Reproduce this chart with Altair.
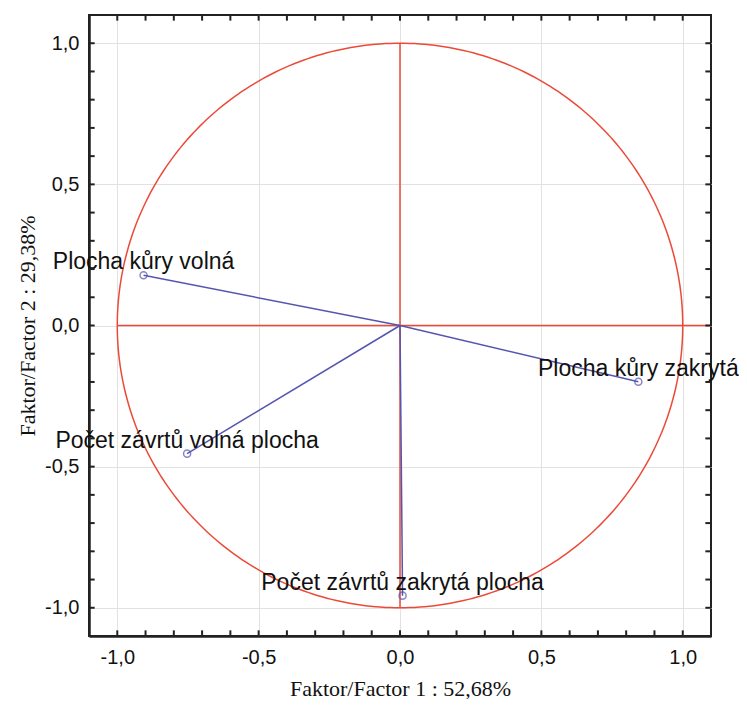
import altair as alt
import pandas as pd
import numpy as np

# Variable loadings (Factor 1, Factor 2)
names = ["Plocha kůry volná", "Plocha kůry zakrytá", "Počet závrtů volná plocha", "Počet závrtů zakrytá plocha"]
f1 = [-0.907, 0.843, -0.753, 0.009]
f2 = [0.178, -0.199, -0.454, -0.957]

axis_values = [-1.0, -0.5, 0.0, 0.5, 1.0]
minor_ticks = [round(-1.0 + 0.1 * i, 1) for i in range(21)]

LO, HI = -1.1, 1.1
TL = 0.02  # tick length in data units (inward)
W, H = 622, 621
RED = "#ec4a38"
BLUE = "#5555b0"

pts = pd.DataFrame({"name": names, "x": f1, "y": f2, "x0": 0.0, "y0": 0.0})

# unit circle (geometric reference)
t = np.linspace(0, 2 * np.pi, 361)
circ = pd.DataFrame({"x": np.cos(t), "y": np.sin(t), "o": np.arange(len(t))})

xs = alt.Scale(domain=[LO, HI], nice=False, zero=False)
ys = alt.Scale(domain=[LO, HI], nice=False, zero=False)

lab = "replace(replace(format(datum.value, '.1f'), '.', ','), '\u2212', '-')"

xaxis = alt.Axis(values=axis_values, labelExpr=lab, title="Faktor/Factor 1 : 52,68%",
                 grid=True, gridColor="#e2e2e2", ticks=False, domain=True, domainColor="#222",
                 domainWidth=2.5, labelFont="Liberation Sans", labelFontSize=20, labelColor="#111",
                 labelPadding=11, titleFont="Liberation Serif", titleFontSize=22,
                 titleFontWeight="normal", titleColor="#111", titlePadding=11)
yaxis = alt.Axis(values=axis_values, labelExpr=lab, title="Faktor/Factor 2 : 29,38%",
                 grid=True, gridColor="#e2e2e2", ticks=False, domain=True, domainColor="#222",
                 domainWidth=2.5, labelFont="Liberation Sans", labelFontSize=20, labelColor="#111",
                 labelPadding=10, titleFont="Liberation Serif", titleFontSize=22,
                 titleFontWeight="normal", titleColor="#111", titlePadding=5)

base_axes = alt.Chart(pts).mark_point(opacity=0).encode(
    x=alt.X("x:Q", scale=xs, axis=xaxis),
    y=alt.Y("y:Q", scale=ys, axis=yaxis),
)

circle = alt.Chart(circ).mark_line(color=RED, strokeWidth=1.5).encode(
    x=alt.X("x:Q", scale=xs), y=alt.Y("y:Q", scale=ys), order="o:Q"
)

hline = alt.Chart(pd.DataFrame({"a": [-1.0], "b": [HI], "c": [0.0]})).mark_rule(
    color=RED, strokeWidth=1.5).encode(
    x=alt.X("a:Q", scale=xs), x2="b:Q", y=alt.Y("c:Q", scale=ys))
vline = alt.Chart(pd.DataFrame({"a": [-1.0], "b": [1.0], "c": [0.0]})).mark_rule(
    color=RED, strokeWidth=1.5).encode(
    y=alt.Y("a:Q", scale=ys), y2="b:Q", x=alt.X("c:Q", scale=xs))

vectors = alt.Chart(pts).mark_rule(color=BLUE, strokeWidth=1.5).encode(
    x=alt.X("x0:Q", scale=xs), y=alt.Y("y0:Q", scale=ys), x2="x:Q", y2="y:Q")

markers = alt.Chart(pts).mark_point(shape="circle", filled=False, size=50, color=BLUE,
                                    strokeWidth=1.5).encode(
    x=alt.X("x:Q", scale=xs), y=alt.Y("y:Q", scale=ys))

labels = alt.Chart(pts).mark_text(align="center", baseline="alphabetic", dy=-6,
                                  font="Liberation Sans", fontSize=23, color="#111").encode(
    x=alt.X("x:Q", scale=xs), y=alt.Y("y:Q", scale=ys), text="name:N")

# inward frame ticks every 0.1
tick_rows = []
for v in minor_ticks:
    tick_rows.append({"x": v, "x2": v, "y": LO, "y2": LO + TL})   # bottom
    tick_rows.append({"x": v, "x2": v, "y": HI, "y2": HI - TL})   # top
    tick_rows.append({"x": LO, "x2": LO + TL, "y": v, "y2": v})   # left
    tick_rows.append({"x": HI, "x2": HI - TL, "y": v, "y2": v})   # right
tdf = pd.DataFrame(tick_rows)
ticks = alt.Chart(tdf).mark_rule(color="#222", strokeWidth=2).encode(
    x=alt.X("x:Q", scale=xs), x2="x2:Q", y=alt.Y("y:Q", scale=ys), y2="y2:Q")

chart = alt.layer(
    base_axes, circle, hline, vline, vectors, markers, labels, ticks
).properties(
    width=W, height=H,
    padding={"left": 8, "top": 6, "right": 0, "bottom": 0},
    background="white",
).configure_view(stroke="#222", strokeWidth=2)

chart.save("out.html", embed_options={"renderer": "svg", "actions": False})
